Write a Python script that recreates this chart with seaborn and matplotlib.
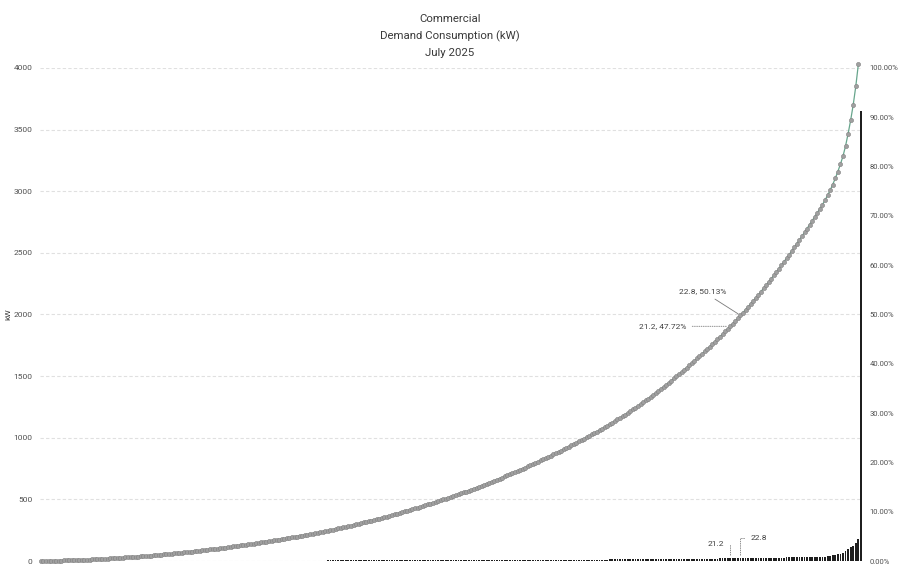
import numpy as np
import matplotlib
matplotlib.use("Agg")
import matplotlib.pyplot as plt
from matplotlib.ticker import FuncFormatter
import seaborn as sns

# sorted monthly demand per commercial account (kW)
demand = [
    0.3, 0.3, 0.4, 0.4, 0.4, 0.5, 0.5, 0.5, 0.6, 0.6,
    0.6, 0.7, 0.7, 0.7, 0.8, 0.8, 0.8, 0.9, 0.9, 0.9,
    1.0, 1.0, 1.0, 1.1, 1.1, 1.1, 1.2, 1.2, 1.2, 1.3,
    1.3, 1.3, 1.4, 1.4, 1.4, 1.5, 1.5, 1.5, 1.6, 1.6,
    1.6, 1.7, 1.7, 1.7, 1.8, 1.8, 1.8, 1.9, 1.9, 1.9,
    2.0, 2.0, 2.0, 2.1, 2.1, 2.1, 2.2, 2.2, 2.2, 2.3,
    2.3, 2.3, 2.4, 2.4, 2.4, 2.5, 2.5, 2.5, 2.6, 2.6,
    2.6, 2.7, 2.7, 2.7, 2.8, 2.8, 2.8, 2.9, 2.9, 2.9,
    3.0, 3.0, 3.0, 3.1, 3.1, 3.1, 3.2, 3.2, 3.2, 3.3,
    3.3, 3.3, 3.4, 3.4, 3.4, 3.5, 3.5, 3.5, 3.6, 3.6,
    3.6,
    3.7, 3.7, 3.8, 3.8, 3.9, 4.0, 4.0, 4.1, 4.1, 4.2,
    4.2, 4.3, 4.4, 4.4, 4.5, 4.5, 4.6, 4.6, 4.7, 4.8,
    4.8, 4.9, 4.9, 5.0, 5.0, 5.1, 5.2, 5.2, 5.3, 5.3,
    5.4, 5.4, 5.5, 5.6, 5.6, 5.7, 5.7, 5.8, 5.8, 5.9,
    6.0, 6.0, 6.1, 6.1, 6.2, 6.2, 6.3, 6.4, 6.4, 6.5,
    6.5, 6.6, 6.6, 6.7, 6.8, 6.8, 6.9, 6.9, 7.0, 7.0,
    7.1, 7.2, 7.3, 7.4, 7.4, 7.5, 7.6, 7.7, 7.7, 7.8,
    7.9, 8.0, 8.1, 8.1, 8.2, 8.3, 8.4, 8.4, 8.5, 8.6,
    8.7, 8.8, 8.8, 8.9, 9.0, 9.1, 9.1, 9.2, 9.3, 9.4,
    9.5, 9.5, 9.6, 9.7, 9.8, 9.8, 9.9, 10.0, 10.1, 10.2,
    10.2, 10.3, 10.4, 10.5, 10.5, 10.6, 10.7, 10.8, 10.9, 10.9,
    11.0, 11.1, 11.2, 11.3, 11.3, 11.4, 11.5,
    11.6, 11.8, 12.0, 12.2, 12.4, 12.5, 12.7, 12.9, 13.1, 13.3,
    13.5, 13.7, 13.9, 14.1, 14.3, 14.4, 14.6, 14.8, 15.0, 15.2,
    15.4, 15.6, 15.8, 16.0, 16.2, 16.3, 16.5, 16.7, 16.9, 17.1,
    17.3, 17.5, 17.7, 17.8, 18.0, 18.2, 18.4, 18.6, 18.8, 19.0,
    19.2, 19.3, 19.5, 19.7, 19.9, 20.1, 20.3, 20.5, 20.6, 20.8, 21.0,
    21.2, 21.5, 22.0, 22.4, 22.8,
    23.0, 23.3, 23.6, 24.0, 24.3, 24.6, 25.0, 25.3, 25.6, 25.9,
    26.3, 26.6, 26.9, 27.3, 27.6, 27.9, 28.2, 28.6, 28.9, 29.2,
    29.6, 29.9, 30.2, 30.5, 30.9, 31.2, 31.5, 31.9, 32.2, 32.5, 32.8, 33.2,
    36, 39, 42, 46, 50, 55, 60,
    65, 82, 100, 110, 125, 150, 178,
]
# the tall bar drawn at the far right of the chart
outlier = 3650

# data labels shown on the chart
label_idx = [269, 273]
bar_labels = ["21.2", "22.8"]
line_labels = ["21.2, 47.72%", "22.8, 50.13%"]

y_ticks = [0, 500, 1000, 1500, 2000, 2500, 3000, 3500, 4000]
pct_ticks = [0, 0.1, 0.2, 0.3, 0.4, 0.5, 0.6, 0.7, 0.8, 0.9, 1.0]
full_scale = 4000

bars = demand + [outlier]
pos = np.arange(len(bars))
cum = np.cumsum(demand)

sns.set_style("white")
plt.rcParams["font.family"] = ["Roboto", "DejaVu Sans"]

fig = plt.figure(figsize=(9, 5.66), dpi=100)
ax = fig.add_axes([0.044, 0.0088, 0.914, 0.8712])

for t in y_ticks:
    ax.axhline(t, color="#e0e0e0", lw=0.8, ls=(0, (3, 2)), zorder=0)

sns.barplot(x=pos, y=bars, color="#1f1f1f", width=0.7, saturation=1,
            edgecolor="none", ax=ax)
sns.lineplot(x=np.arange(len(demand)), y=cum, color="#67a58c", lw=0.9,
             marker="o", markersize=3.0, markerfacecolor="#a0a0a0",
             markeredgecolor="#808080", markeredgewidth=0.4, clip_on=False,
             ax=ax, zorder=3)

ax.set_ylim(0, full_scale)
ax.set_xlim(-0.5, len(bars) - 0.5)
ax.set_yticks(y_ticks)
ax.set_xticks([])
ax.set_xlabel("")
ax.set_ylabel("kW", fontsize=6, color="#404040")
ax.yaxis.set_label_coords(-0.034, 0.5)
ax.tick_params(axis="y", labelsize=6, labelcolor="#505050", length=0, pad=5)
sns.despine(ax=ax, left=True, bottom=True)

ax2 = ax.twinx()
ax2.set_ylim(0, 1.0)
ax2.set_yticks(pct_ticks)
ax2.yaxis.set_major_formatter(FuncFormatter(lambda v, p: f"{v * 100:.2f}%"))
ax2.tick_params(axis="y", labelsize=5.5, labelcolor="#505050", length=0, pad=5.5)
for s in ax2.spines.values():
    s.set_visible(False)

lead = dict(arrowstyle="-", color="#7a7a7a", lw=0.6, ls=":")
# labels on the bars
ax.annotate(bar_labels[0], xy=(label_idx[0], demand[label_idx[0]]),
            xytext=(-6, 14), textcoords="offset pixels", ha="right",
            va="center", fontsize=6, color="#404040",
            arrowprops=dict(lead, connectionstyle="angle,angleA=0,angleB=90"))
ax.annotate(bar_labels[1], xy=(label_idx[1], demand[label_idx[1]]),
            xytext=(10, 20), textcoords="offset pixels", ha="left",
            va="center", fontsize=6, color="#404040",
            arrowprops=dict(lead, connectionstyle="angle,angleA=0,angleB=90"))
# labels on the cumulative line
ax.annotate(line_labels[0], xy=(label_idx[0], cum[label_idx[0]]),
            xytext=(-44, 0), textcoords="offset pixels", ha="right",
            va="center", fontsize=6, color="#404040", arrowprops=lead)
ax.annotate(line_labels[1], xy=(label_idx[1], cum[label_idx[1]]),
            xytext=(-14, 24), textcoords="offset pixels", ha="right",
            va="center", fontsize=6, color="#404040",
            arrowprops=dict(arrowstyle="-", color="#7a7a7a", lw=0.6))

fig.text(0.5, 0.966, "Commercial", ha="center", va="center",
         fontsize=8.2, color="#3a3a3a")
fig.text(0.5, 0.936, "Demand Consumption (kW)", ha="center", va="center",
         fontsize=8.2, color="#3a3a3a")
fig.text(0.5, 0.906, "July 2025", ha="center", va="center",
         fontsize=8.2, color="#3a3a3a")

fig.savefig("out.png", dpi=100)
